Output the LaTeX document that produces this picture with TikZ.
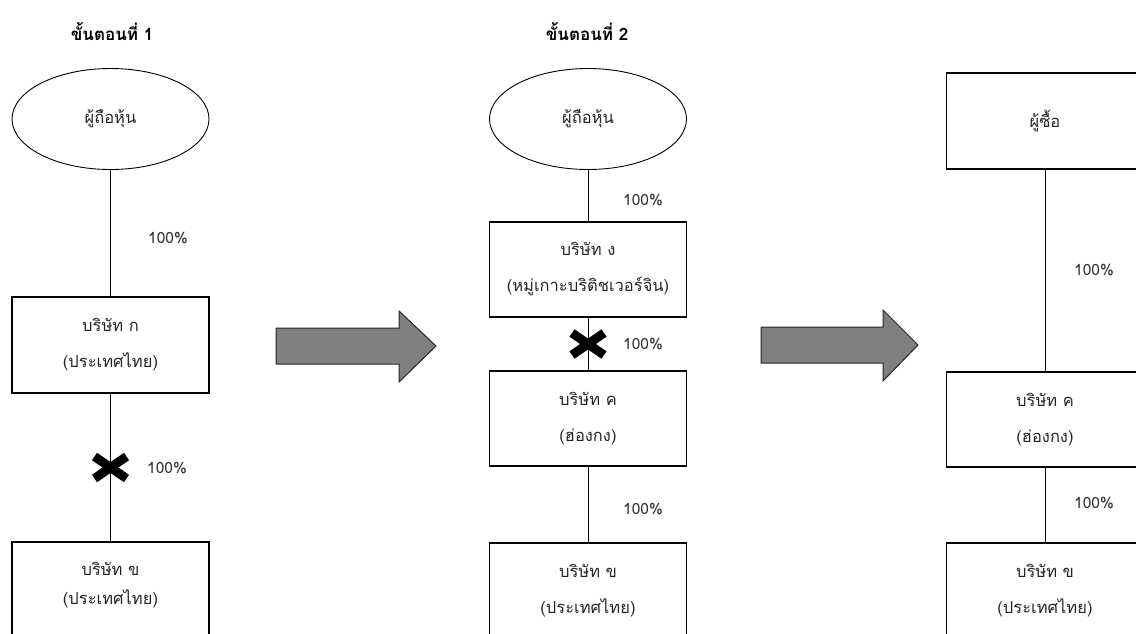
\documentclass[tikz,border=0pt]{standalone}
\usepackage{fontspec}
\newfontfamily\thai[Script=Thai]{Loma}
\usetikzlibrary{shapes.geometric,calc}
\begin{document}
\begin{tikzpicture}[x=1pt,y=-1pt,
  every node/.style={font=\thai\fontsize{16.5}{36}\selectfont, text=black!85},
  box/.style={draw=black, line width=1.1pt, fill=white, minimum width=197pt, minimum height=96pt, align=center, inner sep=0pt},
  oval/.style={ellipse, draw=black, line width=0.9pt, fill=white, minimum width=197pt, minimum height=101pt, inner sep=0pt},
  pct/.style={font=\thai\fontsize{15.5}{18}\selectfont, text=black!80},
  ttl/.style={font=\thai\bfseries\fontsize{17}{20}\selectfont, text=black},
  link/.style={line width=1pt},
  xmark/.style={line width=9pt, black},
  bigarrow/.style={draw=black!85, line width=1pt, fill=black!50}
]
\useasboundingbox (0,0) rectangle (1136,633);
\fill[white] (0,0) rectangle (1136,633);

% Titles
\node[ttl] (t1) at (112,32) {ขั้นตอนที่ 1};
\node[ttl] (t2) at (587,32) {ขั้นตอนที่ 2};

% Column 1
\node[oval] (e1) at (110.5,119) {ผู้ถือหุ้น};
\node[box] (a1) at (110.5,345) {บริษัท ก\\(ประเทศไทย)};
\node[box, font=\thai\fontsize{16.5}{29}\selectfont, text depth=14pt] (b1) at (110.5,590) {บริษัท ข\\(ประเทศไทย)};
\draw[link] (e1) -- (a1);
\draw[link] (a1) -- (b1);
\coordinate (x1) at ($(a1.south)!0.5!(b1.north)$);
\draw[xmark] ([shift={(-16,-11)}]x1) -- ([shift={(16,11)}]x1);
\draw[xmark] ([shift={(-16,11)}]x1) -- ([shift={(16,-11)}]x1);
\node[pct] (p11) at (168,238) {100\%};
\node[pct] (p12) at (167,468) {100\%};

% Arrow 1
\draw[bigarrow] (276,328) -- (399,328) -- (399,311) -- (436,346) -- (399,382) -- (399,364) -- (276,364) -- cycle;

% Column 2
\node[oval] (e2) at (588,119) {ผู้ถือหุ้น};
\node[box, minimum height=95pt] (d2) at (588,269.5) {บริษัท ง\\(หมู่เกาะบริติชเวอร์จิน)};
\node[box, minimum height=95pt] (c2) at (588,418.5) {บริษัท ค\\(ฮ่องกง)};
\node[box] (b2) at (588,591) {บริษัท ข\\(ประเทศไทย)};
\draw[link] (e2) -- (d2);
\draw[link] (d2) -- (c2);
\draw[link] (c2) -- (b2);
\coordinate (x2) at ($(d2.south)!0.5!(c2.north)$);
\draw[xmark] ([shift={(-16,-11)}]x2) -- ([shift={(16,11)}]x2);
\draw[xmark] ([shift={(-16,11)}]x2) -- ([shift={(16,-11)}]x2);
\node[pct] (p21) at (643,200) {100\%};
\node[pct] (p22) at (643,344) {100\%};
\node[pct] (p23) at (643,509) {100\%};

% Arrow 2
\draw[bigarrow] (761,327) -- (883,327) -- (883,310) -- (918,345) -- (883,381) -- (883,363) -- (761,363) -- cycle;

% Column 3
\node[box] (s3) at (1045,121) {ผู้ซื้อ};
\node[box, minimum height=95pt] (c3) at (1045,419.5) {บริษัท ค\\(ฮ่องกง)};
\node[box] (b3) at (1045,591) {บริษัท ข\\(ประเทศไทย)};
\draw[link] (s3) -- (c3);
\draw[link] (c3) -- (b3);
\node[pct] (p31) at (1094,270) {100\%};
\node[pct] (p32) at (1094,503) {100\%};
\end{tikzpicture}
\end{document}
